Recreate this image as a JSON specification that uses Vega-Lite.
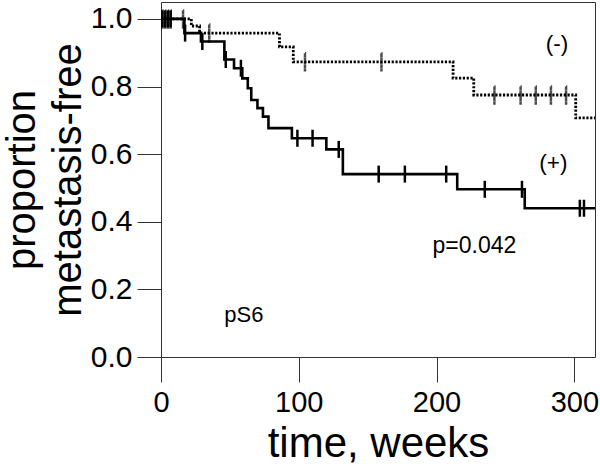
{
  "$schema": "https://vega.github.io/schema/vega-lite/v6.json",
  "width": 434,
  "height": 355,
  "autosize": {"type": "none"},
  "padding": {"left": 161, "top": 2, "right": 5, "bottom": 112},
  "background": "white",
  "config": {
    "view": {"stroke": "#333", "strokeWidth": 1},
    "font": "Liberation Sans",
    "axis": {"labelFont": "Liberation Sans", "titleFont": "Liberation Sans", "labelColor": "black", "titleColor": "black", "tickColor": "#333", "tickWidth": 1, "domain": false, "grid": false, "titleFontWeight": "normal"}
  },
  "datasets": {
    "neg": [
      {"time": 0, "surv": 1.0},
      {"time": 22, "surv": 0.979},
      {"time": 28, "surv": 0.958},
      {"time": 86, "surv": 0.917},
      {"time": 96, "surv": 0.873},
      {"time": 212, "surv": 0.825},
      {"time": 227, "surv": 0.775},
      {"time": 301, "surv": 0.707},
      {"time": 315, "surv": 0.707}
    ],
    "pos": [
      {"time": 0, "surv": 1.0},
      {"time": 17, "surv": 0.958},
      {"time": 29, "surv": 0.933},
      {"time": 46, "surv": 0.88},
      {"time": 53, "surv": 0.854},
      {"time": 59, "surv": 0.824},
      {"time": 63, "surv": 0.795},
      {"time": 65.5, "surv": 0.76},
      {"time": 70, "surv": 0.736},
      {"time": 74, "surv": 0.711},
      {"time": 78, "surv": 0.677},
      {"time": 95, "surv": 0.647},
      {"time": 120, "surv": 0.614},
      {"time": 132, "surv": 0.541},
      {"time": 215, "surv": 0.496},
      {"time": 264, "surv": 0.44},
      {"time": 315, "surv": 0.44}
    ],
    "negCens": [
      {"time": 1, "surv": 1.0},
      {"time": 3, "surv": 1.0},
      {"time": 5, "surv": 1.0},
      {"time": 7, "surv": 1.0},
      {"time": 16, "surv": 1.0},
      {"time": 35, "surv": 0.958},
      {"time": 104.5, "surv": 0.873},
      {"time": 160, "surv": 0.873},
      {"time": 242, "surv": 0.775},
      {"time": 261, "surv": 0.775},
      {"time": 272, "surv": 0.775},
      {"time": 283, "surv": 0.775},
      {"time": 294, "surv": 0.775}
    ],
    "posCens": [
      {"time": 1, "surv": 1.0},
      {"time": 3, "surv": 1.0},
      {"time": 5, "surv": 1.0},
      {"time": 7, "surv": 1.0},
      {"time": 17.5, "surv": 0.958},
      {"time": 30, "surv": 0.933},
      {"time": 47, "surv": 0.88},
      {"time": 58, "surv": 0.854},
      {"time": 99, "surv": 0.647},
      {"time": 110, "surv": 0.647},
      {"time": 129, "surv": 0.614},
      {"time": 158, "surv": 0.541},
      {"time": 177, "surv": 0.541},
      {"time": 207, "surv": 0.541},
      {"time": 235, "surv": 0.496},
      {"time": 262, "surv": 0.496},
      {"time": 304, "surv": 0.44},
      {"time": 307, "surv": 0.44}
    ],
    "notes": [
      {"time": 287.4, "surv": 0.905, "label": "(-)", "size": "m"},
      {"time": 284.8, "surv": 0.552, "label": "(+)", "size": "m"},
      {"time": 227.5, "surv": 0.308, "label": "p=0.042", "size": "l"},
      {"time": 60.2, "surv": 0.104, "label": "pS6", "size": "s"}
    ]
  },
  "encoding": {
    "x": {
      "field": "time", "type": "quantitative",
      "scale": {"domain": [0, 315], "nice": false, "zero": false},
      "axis": {"values": [0, 100, 200, 300], "tickSize": 25, "labelFontSize": 29, "labelPadding": 6, "title": "time, weeks", "titleFontSize": 42, "titlePadding": 6, "labelFlush": false}
    },
    "y": {
      "field": "surv", "type": "quantitative",
      "scale": {"domain": [0, 1.05], "nice": false},
      "axis": {"values": [0, 0.2, 0.4, 0.6, 0.8, 1.0], "format": ".1f", "tickSize": 24, "labelFontSize": 30, "labelPadding": 5, "title": ["proportion", "metastasis-free"], "titleFontSize": 40, "titleLineHeight": 46, "titlePadding": 2}
    }
  },
  "layer": [
    {
      "data": {"name": "neg"},
      "mark": {"type": "line", "interpolate": "step-after", "color": "black", "strokeWidth": 2.8, "strokeDash": [2.2, 1.6], "clip": true}
    },
    {
      "data": {"name": "pos"},
      "mark": {"type": "line", "interpolate": "step-after", "color": "black", "strokeWidth": 2.6, "clip": true}
    },
    {
      "data": {"name": "negCens"},
      "mark": {"type": "tick", "orient": "vertical", "size": 17, "thickness": 0.01, "filled": false, "stroke": "black", "strokeWidth": 2.5, "strokeDash": [2.2, 1.6]}
    },
    {
      "data": {"name": "posCens"},
      "mark": {"type": "tick", "orient": "vertical", "size": 17, "thickness": 2.5, "color": "black", "opacity": 1}
    },
    {
      "data": {"name": "notes"},
      "mark": {"type": "text", "align": "center", "baseline": "alphabetic", "color": "black", "font": "Liberation Sans"},
      "encoding": {
        "text": {"field": "label"},
        "size": {"field": "size", "type": "nominal", "scale": {"domain": ["s", "m", "l"], "range": [22, 23, 28]}, "legend": null}
      }
    }
  ]
}
